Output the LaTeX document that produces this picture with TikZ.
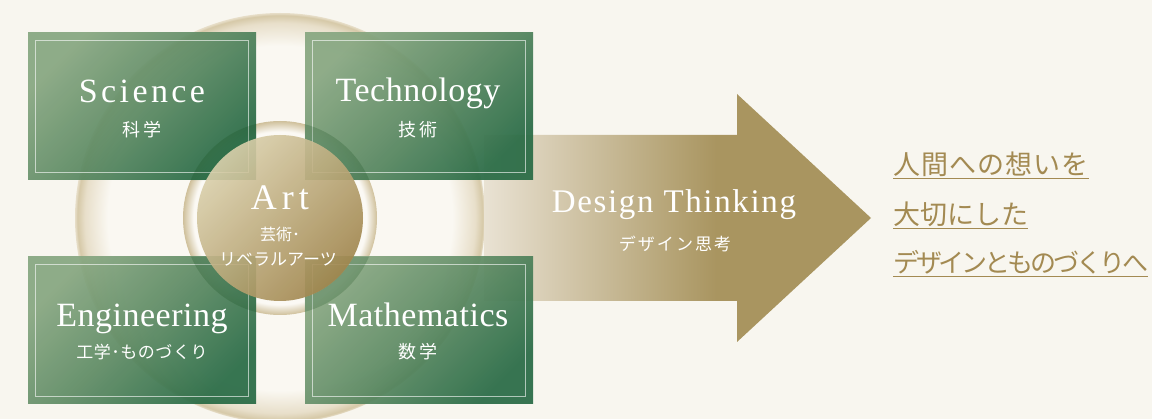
\documentclass[tikz,border=0pt]{standalone}
\usepackage{fontspec}
\setmainfont{Liberation Serif}
\newfontfamily\lsSci[LetterSpace=10]{Liberation Serif}
\newfontfamily\lsArt[LetterSpace=14]{Liberation Serif}
\newfontfamily\lsStd[LetterSpace=1.5]{Liberation Serif}
\newfontfamily\lsDT[LetterSpace=5]{Liberation Serif}
\newfontfamily\jp{Noto Sans CJK JP}
\newfontfamily\jpWide[LetterSpace=22]{Noto Sans CJK JP}
\newfontfamily\jpMid[LetterSpace=12]{Noto Sans CJK JP}
\newfontfamily\jpSm[LetterSpace=3]{Noto Sans CJK JP}
\newfontfamily\jpOne[LetterSpace=4]{Noto Sans CJK JP}
\newfontfamily\jpTight[LetterSpace=-12]{Noto Sans CJK JP}
\definecolor{bgc}{HTML}{F8F6EF}
\definecolor{ringin}{HTML}{FAF8F2}
\definecolor{ringmid}{HTML}{E8DFCA}
\definecolor{ringout}{HTML}{D6C9A8}
\definecolor{haloin}{HTML}{FBF9F4}
\definecolor{haloout}{HTML}{CFC09B}
\definecolor{arrL}{HTML}{E9E2D3}
\definecolor{arrR}{HTML}{A99560}
\definecolor{gA}{HTML}{86A680}
\definecolor{gB}{HTML}{5B8962}
\definecolor{gC}{HTML}{276A44}
\definecolor{auA}{HTML}{DAD0AC}
\definecolor{auB}{HTML}{9F844B}
\definecolor{gold}{HTML}{A38A52}
\definecolor{shadowg}{HTML}{1F5A32}
\pgfdeclareradialshading{bigring}{\pgfpoint{0bp}{0bp}}{color(0bp)=(ringin); color(21bp)=(ringin); color(23.8bp)=(ringmid); color(24.7bp)=(ringout); color(25bp)=(ringmid); color(50bp)=(ringmid)}
\pgfdeclareradialshading{halo}{\pgfpoint{0bp}{0bp}}{color(0bp)=(haloin); color(22.3bp)=(haloin); color(25bp)=(haloout); color(50bp)=(haloout)}
\pgfdeclarehorizontalshading{arrowsh}{100bp}{color(0bp)=(arrL); color(25bp)=(arrL); color(55bp)=(arrR); color(100bp)=(arrR)}
\tikzset{
  box/.style={shade, top color=gA, bottom color=gC, middle color=gB, shading angle=45,
    minimum width=228pt, minimum height=147pt, inner sep=0pt, opacity=0.92},
  frame/.style={draw=white, draw opacity=0.6, line width=0.9pt},
  disc/.style={circle, shade, top color=auA, bottom color=auB, shading angle=45,
    minimum size=166pt, inner sep=0pt, opacity=0.9},
  lbl/.style={text=white, inner sep=0pt, anchor=base},
  rtxt/.style={text=gold, inner sep=0pt, anchor=base west},
  uline/.style={draw=gold, line width=1.4pt}
}
\begin{document}
\begin{tikzpicture}[x=1pt,y=-1pt]
\useasboundingbox (0,0) rectangle (1152,419);
\fill[bgc] (0,0) rectangle (1152,419);
% big ring
\shade[shading=bigring] (280,218) circle[radius=205pt];
% arrow
\shade[shading=arrowsh] (484,135) -- (737,135) -- (737,94) -- (871,218) -- (737,342) -- (737,301) -- (484,301) -- cycle;
% halo
\shade[shading=halo] (280,218) circle[radius=97pt];
% boxes
\node[box] (sci) at (142,106.5) {};
\node[box] (tec) at (419,106.5) {};
\node[box] (eng) at (142,330.5) {};
\node[box] (mat) at (419,330.5) {};
\foreach \b in {sci,tec,eng,mat}{
  \draw[frame] ([xshift=8pt,yshift=-8pt]\b.north west) rectangle ([xshift=-8pt,yshift=8pt]\b.south east);
}
% dark ring over boxes
\begin{scope}
\clip (sci.north west) rectangle (sci.south east) (tec.north west) rectangle (tec.south east)
      (eng.north west) rectangle (eng.south east) (mat.north west) rectangle (mat.south east);
\fill[shadowg, opacity=0.22, even odd rule] (280,218) circle[radius=97pt] (280,218) circle[radius=83pt];
\end{scope}
% art disc
\node[disc] (art) at (280,218) {};
% box labels
\node[lbl, font=\lsSci\fontsize{34}{40}\selectfont] (tsci) at (142,103) {Science};
\node[lbl, font=\jpWide\fontsize{18}{22}\selectfont] (jsci) at (142,136.5) {科学};
\node[lbl, font=\lsStd\fontsize{34}{40}\selectfont] (ttec) at (418,102) {Technology};
\node[lbl, font=\jpWide\fontsize{18}{22}\selectfont] (jtec) at (418,136.5) {技術};
\node[lbl, font=\lsStd\fontsize{34}{40}\selectfont] (teng) at (142,327) {Engineering};
\node[lbl, font=\jpSm\fontsize{17}{22}\selectfont] (jeng) at (142,358.5) {工学･ものづくり};
\node[lbl, font=\lsStd\fontsize{34}{40}\selectfont] (tmat) at (418,327) {Mathematics};
\node[lbl, font=\jpWide\fontsize{18}{22}\selectfont] (jmat) at (418,358.5) {数学};
% art labels
\node[lbl, font=\lsArt\fontsize{36}{40}\selectfont] (tart) at (280,210) {Art};
\node[lbl, font=\jp\fontsize{16}{20}\selectfont] (jart1) at (280,241) {芸術･};
\node[lbl, font=\jp\fontsize{17}{20}\selectfont] (jart2) at (278,266) {リベラルアーツ};
% arrow labels
\node[lbl, font=\lsDT\fontsize{33}{40}\selectfont] (tdt) at (674,213) {Design Thinking};
\node[lbl, font=\jpMid\fontsize{17}{20}\selectfont] (jdt) at (675,251) {デザイン思考};
% right text
\node[rtxt, font=\jpOne\fontsize{27}{32}\selectfont] (r1) at (893,175) {人間への想いを};
\node[rtxt, font=\jp\fontsize{27}{32}\selectfont] (r2) at (893,225) {大切にした};
\node[rtxt, font=\jpTight\fontsize{26}{32}\selectfont] (r3) at (893,273) {デザインとものづくりへ};
\draw[uline] ([yshift=-3.5pt]r1.base west) -- ([yshift=-3.5pt]r1.base east);
\draw[uline] ([yshift=-3.5pt]r2.base west) -- ([yshift=-3.5pt]r2.base east);
\draw[uline] ([yshift=-3.5pt]r3.base west) -- ([yshift=-3.5pt]r3.base east);
\end{tikzpicture}
\end{document}
